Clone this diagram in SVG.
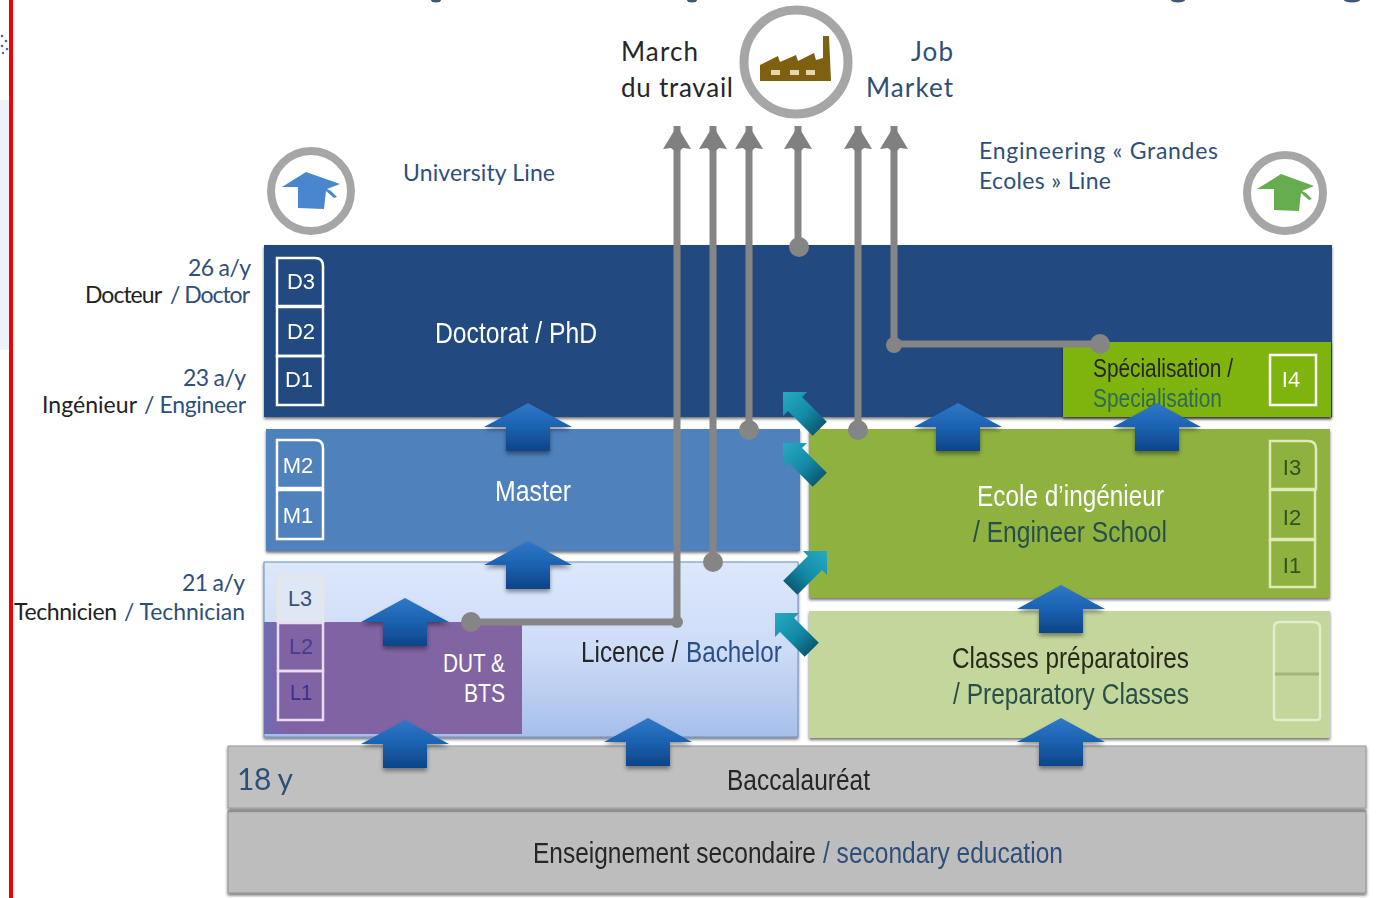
<svg xmlns="http://www.w3.org/2000/svg" xmlns:xlink="http://www.w3.org/1999/xlink" width="1393" height="898" viewBox="0 0 1393 898">
<style>
text{font-family:"Liberation Sans",Arial,sans-serif;fill:#262626}
.cal{font-family:Lato,"Open Sans",sans-serif}
.en{fill:#2f4f7a}
.w{fill:#fff}
.mini{fill:none;stroke-width:2.5}
.mt{font-size:22px;text-anchor:middle}
.ring{fill:#fff;stroke:#a6a6a6}
.conn{stroke:#858585;stroke-width:7;fill:none}
.dot{fill:#858585}
.lvl{filter:url(#sh)}
</style>
<defs>
<filter id="sh" x="-5%" y="-10%" width="110%" height="120%"><feDropShadow dx="0" dy="2" stdDeviation="1.5" flood-color="#000" flood-opacity=".55"/></filter>
<filter id="sh2" x="-30%" y="-30%" width="160%" height="160%"><feDropShadow dx="0" dy="3" stdDeviation="2" flood-color="#000" flood-opacity=".4"/></filter>
<linearGradient id="gUp" x1="0" y1="0" x2="0" y2="1"><stop offset="0" stop-color="#2f78c8"/><stop offset=".5" stop-color="#1b62b0"/><stop offset="1" stop-color="#0d4488"/></linearGradient>
<linearGradient id="gTeal" x1="0" y1="0" x2="0" y2="1"><stop offset="0" stop-color="#27aac2"/><stop offset=".6" stop-color="#138aa6"/><stop offset="1" stop-color="#0b5a72"/></linearGradient>
<linearGradient id="gLic" x1="0" y1="0" x2="0" y2="1"><stop offset="0" stop-color="#dde7fc"/><stop offset=".5" stop-color="#cddcf7"/><stop offset="1" stop-color="#a6bfea"/></linearGradient>
<linearGradient id="gDut" x1="0" y1="0" x2="1" y2="0"><stop offset="0" stop-color="#6f6cb4"/><stop offset=".08" stop-color="#8063a4"/><stop offset="1" stop-color="#8264a2"/></linearGradient>
<polygon id="up" points="0,0 44,24 22,24 22,48 -22,48 -22,24 -44,24" fill="url(#gUp)" filter="url(#sh2)"/>
<polygon id="teal" points="0,0 17,17 10,17 10,52 -10,52 -10,17 -17,17" fill="url(#gTeal)"/>
<marker id="head" viewBox="0 0 32 30" refX="16" refY="0" markerWidth="32" markerHeight="30" markerUnits="userSpaceOnUse" orient="0"><polygon points="16,0 30,23 22,22 16,27 10,22 2,23" fill="#808080"/></marker>
<path id="mb" d="M0,0H38Q46,0 46,8V48H0Z" class="mini"/>
</defs>
<rect width="1393" height="898" fill="#fff"/>
<rect x="0" y="100" width="9" height="250" fill="#edf2fa"/>
<rect x="9" y="0" width="4" height="898" fill="#f00000"/>
<g fill="#4a64b4"><circle cx="2" cy="36" r="1.3"/><circle cx="6" cy="41" r="1.3"/><circle cx="2" cy="46" r="1.3"/><circle cx="7" cy="49" r="1.3"/><circle cx="3" cy="53" r="1.2"/></g>
<g fill="#3f5878"><ellipse cx="436" cy="0" rx="5" ry="2.5"/><ellipse cx="692" cy="0" rx="5" ry="2.5"/><ellipse cx="1178" cy="0" rx="7" ry="2.5"/><ellipse cx="1352" cy="0" rx="8" ry="2.5"/></g>

<g id="secondary" class="lvl"><rect x="228" y="811" width="1138" height="82" fill="#bdbdbd" stroke="#8f8f8f"/>
<text transform="matrix(.844 0 0 1 533 863)" font-size="29">Enseignement secondaire</text>
<text transform="matrix(.846 0 0 1 823 863)" font-size="29" class="en">/ secondary education</text></g>
<g id="bac" class="lvl"><rect x="228" y="746" width="1138" height="62" fill="#c0c0c0" stroke="#9a9a9a"/>
<text x="237" y="790" class="cal en" font-size="30" textLength="56">18 y</text>
<text x="727" y="790" font-size="29" textLength="143" lengthAdjust="spacingAndGlyphs">Baccalauréat</text></g>

<g id="doctorat" class="lvl"><rect x="264" y="245" width="1068" height="172" fill="#204a80"/>
<g stroke="#fff"><use xlink:href="#mb" x="277" y="258"/><rect class="mini" x="277" y="307" width="46" height="49"/><rect class="mini" x="277" y="356" width="46" height="49"/></g>
<g class="w"><text x="301" y="289" class="mt w">D3</text><text x="301" y="339" class="mt w">D2</text><text x="299" y="387" class="mt w">D1</text></g>
<text x="435" y="343" font-size="30" class="w" textLength="162" lengthAdjust="spacingAndGlyphs">Doctorat / PhD</text></g>

<g id="specialisation" class="lvl"><rect x="1063" y="342" width="268" height="75" fill="#7fb30c"/>
<rect class="mini" x="1270" y="355" width="46" height="50" stroke="#fff"/>
<text x="1291" y="387" class="mt w" font-size="24">I4</text>
<text x="1093" y="377" font-size="25" fill="#1d2a10" textLength="140" lengthAdjust="spacingAndGlyphs">Spécialisation /</text>
<text x="1093" y="407" font-size="25" class="en" textLength="129" lengthAdjust="spacingAndGlyphs" style="fill:#2d6a55">Specialisation</text></g>

<g id="master" class="lvl"><rect x="266" y="429" width="534" height="122" fill="#4f81bd"/>
<g stroke="#fff"><use xlink:href="#mb" x="277" y="440"/><rect class="mini" x="277" y="490" width="46" height="49"/></g>
<text x="298" y="473" class="mt w">M2</text><text x="298" y="523" class="mt w">M1</text>
<text x="495" y="501" font-size="30" class="w" textLength="76" lengthAdjust="spacingAndGlyphs">Master</text></g>

<g id="licence" class="lvl"><rect x="264" y="562" width="534" height="175" fill="url(#gLic)" stroke="#6a8cc0"/>
<text transform="matrix(.81 0 0 1 581 662)" font-size="30">Licence /</text>
<text transform="matrix(.81 0 0 1 686 662)" font-size="30" style="fill:#2c4f88">Bachelor</text></g>

<g id="dut"><rect x="264" y="622" width="258" height="112" fill="url(#gDut)"/>
<text x="505" y="672" font-size="25" class="w" text-anchor="end" textLength="62" lengthAdjust="spacingAndGlyphs">DUT &amp;</text>
<text x="505" y="702" font-size="25" class="w" text-anchor="end" textLength="41" lengthAdjust="spacingAndGlyphs">BTS</text></g>
<g id="licence-years">
<path d="M278,623V582Q278,576 284,576H317Q323,576 323,582V623" fill="#dfe6f4" stroke="#e6e6e6" stroke-width="3"/>
<g stroke="#eadcf0"><rect class="mini" x="278" y="623" width="45" height="48"/><rect class="mini" x="278" y="671" width="45" height="49"/></g>
<text x="300" y="606" class="mt" font-size="21" style="fill:#3a4f7c" textLength="24" lengthAdjust="spacingAndGlyphs">L3</text>
<text x="301" y="654" class="mt" font-size="21" style="fill:#4a3a90" textLength="24" lengthAdjust="spacingAndGlyphs">L2</text>
<text x="301" y="700" class="mt" font-size="21" style="fill:#3a3090" textLength="22" lengthAdjust="spacingAndGlyphs">L1</text></g>

<g id="ecole" class="lvl"><rect x="809" y="429" width="521" height="169" fill="#8fb13f"/>
<g stroke="#dfeab8"><use xlink:href="#mb" x="1270" y="441"/><rect class="mini" x="1270" y="490" width="45" height="49"/><rect class="mini" x="1270" y="540" width="45" height="47"/></g>
<text x="1292" y="475" class="mt" font-size="24" style="fill:#33521f">I3</text><text x="1292" y="525" class="mt" font-size="24" style="fill:#33521f">I2</text><text x="1292" y="573" class="mt" font-size="24" style="fill:#33521f">I1</text>
<text x="977" y="506" font-size="29" class="w" textLength="187" lengthAdjust="spacingAndGlyphs">Ecole d’ingénieur</text>
<text x="973" y="542" font-size="29" style="fill:#28504a" textLength="194" lengthAdjust="spacingAndGlyphs">/ Engineer School</text></g>

<g id="prepa" class="lvl"><rect x="809" y="611" width="521" height="127" fill="#c3d69b"/>
<g stroke="#e4edca"><path class="mini" d="M1274,673V628Q1274,622 1280,622H1313Q1320,622 1320,628V673"/><path class="mini" d="M1274,673V717Q1274,720 1277,720H1317Q1320,720 1320,717V673" /><path d="M1275,674H1319" stroke="#a3b57c" stroke-width="3" fill="none"/></g>
<text x="952" y="668" font-size="29" style="fill:#2b2b1e" textLength="237" lengthAdjust="spacingAndGlyphs">Classes préparatoires</text>
<text x="953" y="704" font-size="29" style="fill:#2c5048" textLength="236" lengthAdjust="spacingAndGlyphs">/ Preparatory Classes</text></g>

<g id="side-labels">
<text x="188" y="276" class="cal en" font-size="23" textLength="63">26 a/y</text>
<text x="85" y="303" class="cal" font-size="23" textLength="77" style="fill:#222">Docteur</text><text x="170" y="303" class="cal en" font-size="23" textLength="80">/ Doctor</text>
<text x="183" y="386" class="cal en" font-size="23" textLength="63">23 a/y</text>
<text x="42" y="413" class="cal" font-size="23" textLength="95" style="fill:#222">Ingénieur</text><text x="144" y="413" class="cal en" font-size="23" textLength="102">/ Engineer</text>
<text x="182" y="591" class="cal en" font-size="23" textLength="63">21 a/y</text>
<text x="14" y="620" class="cal" font-size="23" textLength="103" style="fill:#222">Technicien</text><text x="124" y="620" class="cal en" font-size="23" textLength="121">/ Technician</text>
</g>

<g id="university-line"><circle class="ring" cx="311" cy="191" r="40" stroke-width="8"/>
<path d="M282,187L306,172L340,184L327,189L331,191L337,197L334,198L326,191L324,209L298,208L298,187Z" fill="#4a86d0"/>
<text x="403" y="181" class="cal en" font-size="23" textLength="152">University Line</text></g>
<g id="engineering-line"><circle class="ring" cx="1285" cy="193" r="38" stroke-width="8"/>
<path d="M1257,189L1281,174L1314,186L1302,191L1306,193L1312,199L1309,200L1301,193L1299,211L1274,210L1274,189Z" fill="#66ad50"/>
<text x="979" y="159" class="cal en" font-size="23" textLength="239">Engineering  « Grandes</text>
<text x="979" y="189" class="cal en" font-size="23" textLength="132">Ecoles » Line</text></g>
<g id="job-market"><circle class="ring" cx="796" cy="62" r="52" stroke-width="9"/>
<path d="M760,81V65L778,56L780,62L796,55L798,61L814,53L816,60L823,58V36H829L831,81Z" fill="#7f5f10"/>
<g fill="#e6d6ae"><rect x="771" y="70" width="9" height="5"/><rect x="790" y="70" width="9" height="5"/><rect x="806" y="70" width="9" height="5"/></g>
<text x="621" y="61" class="cal" font-size="26" textLength="77">March</text>
<text x="621" y="97" class="cal" font-size="26" textLength="112">du travail</text>
<text x="953" y="61" class="cal en" font-size="26" text-anchor="end" textLength="42">Job</text>
<text x="953" y="97" class="cal en" font-size="26" text-anchor="end" textLength="87">Market</text></g>

<g id="connectors">
<g class="conn">
<path marker-start="url(#head)" d="M677,126V622H471"/>
<path marker-start="url(#head)" d="M713,126V562"/>
<path marker-start="url(#head)" d="M749,126V430"/>
<path marker-start="url(#head)" d="M798,126V246"/>
<path marker-start="url(#head)" d="M858,126V430"/>
<path marker-start="url(#head)" d="M894,126V344H1100"/>
</g>
<g class="dot"><circle cx="799" cy="247" r="10"/><circle cx="749" cy="430" r="10"/><circle cx="858" cy="430" r="10"/><circle cx="713" cy="562" r="10"/><circle cx="471" cy="622" r="10"/><circle cx="677" cy="622" r="6"/><circle cx="894" cy="345" r="8"/><circle cx="1100" cy="344" r="10"/></g>
<use xlink:href="#up" x="528" y="403"/>
<use xlink:href="#up" x="528" y="541"/>
<use xlink:href="#up" x="405" y="598"/>
<use xlink:href="#up" x="405" y="720"/>
<use xlink:href="#up" x="648" y="718"/>
<use xlink:href="#up" x="958" y="403"/>
<use xlink:href="#up" x="1157" y="403"/>
<use xlink:href="#up" x="1061" y="585"/>
<use xlink:href="#up" x="1061" y="718"/>
<use xlink:href="#teal" transform="translate(783,392) rotate(-45)"/>
<use xlink:href="#teal" transform="translate(783,443) rotate(-45)"/>
<use xlink:href="#teal" transform="translate(827,551) rotate(45)"/>
<use xlink:href="#teal" transform="translate(775,613) rotate(-45)"/>
</g>
</svg>
